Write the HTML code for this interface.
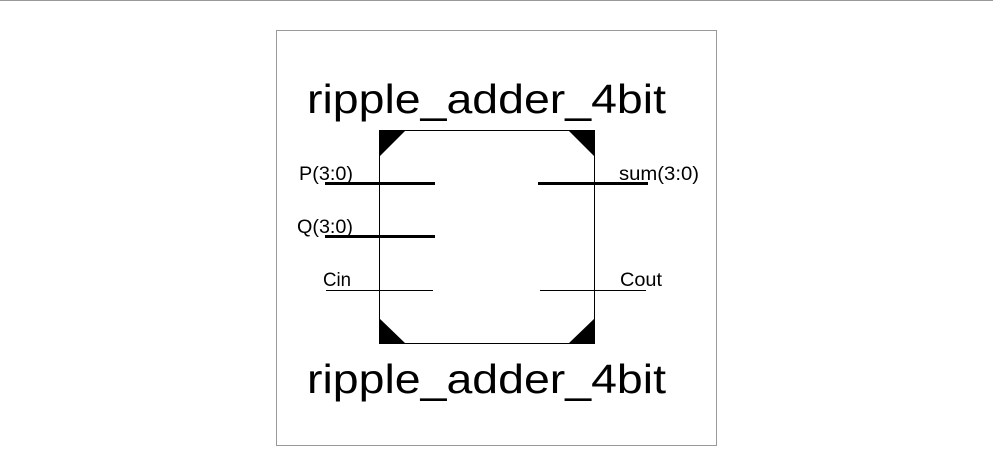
<!DOCTYPE html>
<html><head><meta charset="utf-8"><style>
html,body{margin:0;padding:0;background:#fff;width:993px;height:471px;overflow:hidden}
svg{display:block}
text{font-family:"Liberation Sans",Arial,sans-serif;fill:#000}
</style></head><body>
<svg width="993" height="471">
<line x1="0" y1="0.5" x2="993" y2="0.5" stroke="#999" stroke-width="1"/>
<rect x="276.5" y="30.5" width="440" height="415" fill="#fff" stroke="#999"/>
<text x="307" y="113" font-size="41" textLength="359" lengthAdjust="spacingAndGlyphs">ripple_adder_4bit</text>
<text x="307" y="393" font-size="41" textLength="359" lengthAdjust="spacingAndGlyphs">ripple_adder_4bit</text>
<g>
<rect x="379.5" y="130.5" width="215" height="213" fill="#fff" stroke="#000" stroke-width="1"/>
<polygon points="379,130 406,130 379,157" fill="#000"/>
<polygon points="595,130 568,130 595,157" fill="#000"/>
<polygon points="379,344 406,344 379,318" fill="#000"/>
<polygon points="595,344 568,344 595,318" fill="#000"/>
</g>
<line x1="325" y1="183.5" x2="435" y2="183.5" stroke="#000" stroke-width="3"/>
<line x1="325" y1="236.5" x2="435" y2="236.5" stroke="#000" stroke-width="3"/>
<line x1="326" y1="290.5" x2="433" y2="290.5" stroke="#000" stroke-width="1"/>
<line x1="538" y1="183.5" x2="648" y2="183.5" stroke="#000" stroke-width="3"/>
<line x1="540" y1="290.5" x2="646" y2="290.5" stroke="#000" stroke-width="1"/>
<text x="299" y="180" font-size="19" textLength="54" lengthAdjust="spacingAndGlyphs">P(3:0)</text>
<text x="297" y="233" font-size="19" textLength="56" lengthAdjust="spacingAndGlyphs">Q(3:0)</text>
<text x="323" y="286" font-size="19" textLength="28" lengthAdjust="spacingAndGlyphs">Cin</text>
<text x="619" y="180" font-size="19" textLength="80" lengthAdjust="spacingAndGlyphs">sum(3:0)</text>
<text x="620" y="286" font-size="19" textLength="42" lengthAdjust="spacingAndGlyphs">Cout</text>
</svg>
</body></html>
